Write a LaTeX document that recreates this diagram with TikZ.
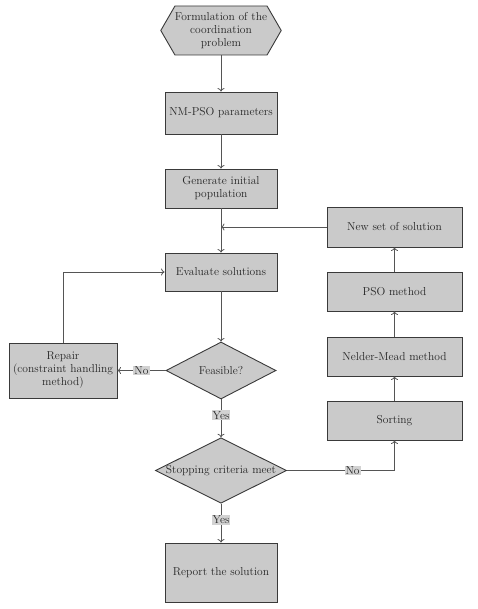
\documentclass[tikz,border=0pt]{standalone}
\usetikzlibrary{shapes.geometric,shapes.symbols,arrows.meta}
\definecolor{boxfill}{HTML}{CACACA}
\definecolor{boxline}{HTML}{3A3A3A}
\definecolor{wire}{HTML}{555555}
\definecolor{lblfill}{HTML}{D2D2D2}
\begin{document}
\begin{tikzpicture}[x=1pt,y=-1pt,
  every node/.style={font=\fontsize{11.5}{13}\selectfont,text=black!85},
  procbox/.style={rectangle,draw=boxline,fill=boxfill,line width=0.9pt,inner sep=1pt,align=center},
  decbox/.style={diamond,draw=boxline,fill=boxfill,line width=0.9pt,inner sep=0pt,align=center},
  startbox/.style={signal,signal to=east and west,signal pointer angle=120,draw=boxline,fill=boxfill,line width=0.9pt,inner sep=0pt,align=center},
  conn/.style={draw=wire,line width=0.8pt,-{To[length=3.5pt,width=7pt]}},
  lbl/.style={fill=lblfill,inner sep=1pt}]
\useasboundingbox (0,0) rectangle (477,609);
\node[startbox,minimum width=120pt,minimum height=49pt] (hex) at (221,30.5) {Formulation of the\\coordination\\problem};
\node[procbox,minimum width=112pt,minimum height=42pt] (nmpso) at (221,113) {NM-PSO parameters};
\node[procbox,minimum width=112pt,minimum height=39pt] (gen) at (221,188.5) {Generate initial\\population};
\node[procbox,minimum width=135pt,minimum height=40pt] (newset) at (394.5,227) {New set of solution};
\node[procbox,minimum width=112pt,minimum height=38pt] (eval) at (221,272) {Evaluate solutions};
\node[procbox,minimum width=135pt,minimum height=39pt] (pso) at (394.5,291.5) {PSO method};
\node[procbox,minimum width=108pt,minimum height=55pt] (repair) at (63,370.5) {Repair\\(constraint handling\\method)};
\node[decbox,aspect=1.93,minimum width=110pt,minimum height=57pt] (feas) at (221,370.5) {Feasible?};
\node[procbox,minimum width=135pt,minimum height=39pt] (nm) at (394.5,356.5) {Nelder-Mead method};
\node[procbox,minimum width=135pt,minimum height=39pt] (sort) at (394.5,420.5) {Sorting};
\node[decbox,aspect=2,minimum width=127pt,minimum height=65pt] (stop) at (221,470.5) {Stopping criteria meet};
\node[procbox,minimum width=112pt,minimum height=59pt] (report) at (221,572.5) {Report the solution};
\coordinate (join) at (gen.south|-newset.west);
\coordinate (rtop) at (repair.north|-eval.west);
\coordinate (scorner) at (sort.south|-stop.east);
\draw[conn] (hex.south) -- (nmpso.north);
\draw[conn] (nmpso.south) -- (gen.north);
\draw[conn] (gen.south) -- (eval.north);
\draw[conn] (newset.west) -- (join);
\draw[conn] (eval.south) -- (feas.north);
\draw[conn] (feas.west) -- node[lbl,pos=0.5]{No} (repair.east);
\draw[conn] (repair.north) -- (rtop) -- (eval.west);
\draw[conn] (feas.south) -- node[lbl,pos=0.42]{Yes} (stop.north);
\draw[conn] (stop.south) -- node[lbl,pos=0.42]{Yes} (report.north);
\draw[conn] (stop.east) -- node[lbl,pos=0.61]{No} (scorner) -- (sort.south);
\draw[conn] (sort.north) -- (nm.south);
\draw[conn] (nm.north) -- (pso.south);
\draw[conn] (pso.north) -- (newset.south);
\end{tikzpicture}
\end{document}
